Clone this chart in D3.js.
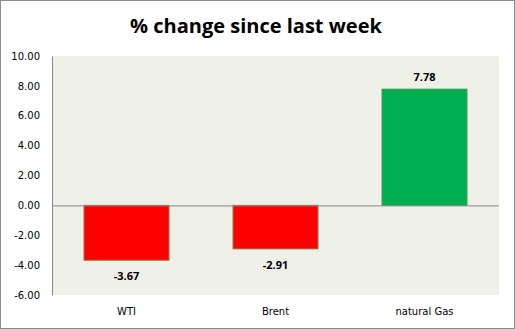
<!DOCTYPE html>
<html>
<head>
<meta charset="utf-8">
<script src="https://cdn.jsdelivr.net/npm/d3@7"></script>
<style>
  body { margin: 0; background: #fff; }
  svg { display: block; }
</style>
</head>
<body>
<div id="chart"></div>
<script>
// data
var categories = ["WTI", "Brent", "natural Gas"];
var changes = [-3.67, -2.91, 7.78];
var yTicks = [-6, -4, -2, 0, 2, 4, 6, 8, 10];

var W = 515, H = 329;
var plot = { left: 52, right: 499, top: 56, bottom: 295 };

// excel style: plain hyphen for negatives
var fmt = function(v) { return d3.format(".2f")(v).replace("\u2212", "-"); };

var svg = d3.select("#chart").append("svg")
    .attr("width", W)
    .attr("height", H);

// outer frame
svg.append("rect")
    .attr("x", 0.5).attr("y", 0.5)
    .attr("width", W - 1).attr("height", H - 1)
    .style("fill", "#fff")
    .style("stroke", "#8c8c8c");

// title
svg.append("text")
    .attr("x", 256).attr("y", 33)
    .attr("text-anchor", "middle")
    .style("font-family", "Open Sans")
    .style("font-weight", "bold")
    .style("font-size", "20px")
    .text("% change since last week");

// scales
var x = d3.scaleBand()
    .domain(categories)
    .range([plot.left, plot.right])
    .paddingInner(0.43)
    .paddingOuter(0.215);

var y = d3.scaleLinear()
    .domain([-6, 10])
    .range([plot.bottom, plot.top]);

// plot area background
svg.append("rect")
    .attr("x", plot.left).attr("y", plot.top)
    .attr("width", plot.right - plot.left)
    .attr("height", plot.bottom - plot.top)
    .style("fill", "#eff0e8");

// y axis
var yAxis = svg.append("g")
    .attr("transform", "translate(" + plot.left + ",0)")
    .call(d3.axisLeft(y).tickValues(yTicks).tickFormat(fmt).tickSize(0).tickPadding(12));
yAxis.select(".domain").style("stroke", "#888");
yAxis.selectAll("text")
    .style("font-family", "DejaVu Sans")
    .style("font-size", "10px")
    .style("fill", "#000");

// bars
var data = categories.map(function(c, i) { return { cat: c, v: changes[i] }; });

svg.selectAll(".bar")
    .data(data)
  .enter().append("rect")
    .attr("class", "bar")
    .attr("x", function(d) { return x(d.cat); })
    .attr("width", x.bandwidth())
    .attr("y", function(d) { return y(Math.max(0, d.v)); })
    .attr("height", function(d) { return Math.abs(y(d.v) - y(0)); })
    .style("fill", function(d) { return d.v < 0 ? "#ff0000" : "#00b050"; })
    .style("stroke", function(d) { return d.v < 0 ? "#9a6a3a" : "#3c9a50"; })
    .style("stroke-width", 1);

// zero line
svg.append("line")
    .attr("x1", plot.left).attr("x2", plot.right)
    .attr("y1", y(0) + 0.5).attr("y2", y(0) + 0.5)
    .style("stroke", "#888");

// value labels
svg.selectAll(".val")
    .data(data)
  .enter().append("text")
    .attr("class", "val")
    .attr("x", function(d) { return x(d.cat) + x.bandwidth() / 2; })
    .attr("y", function(d) { return d.v < 0 ? y(d.v) + 20 : y(d.v) - 8; })
    .attr("text-anchor", "middle")
    .style("font-family", "Open Sans")
    .style("font-weight", "bold")
    .style("font-size", "11px")
    .text(function(d) { return fmt(d.v); });

// category labels
svg.selectAll(".cat")
    .data(categories)
  .enter().append("text")
    .attr("class", "cat")
    .attr("x", function(d) { return x(d) + x.bandwidth() / 2; })
    .attr("y", 315)
    .attr("text-anchor", "middle")
    .style("font-family", "DejaVu Sans")
    .style("font-size", "10px")
    .text(function(d) { return d; });
</script>
</body>
</html>
